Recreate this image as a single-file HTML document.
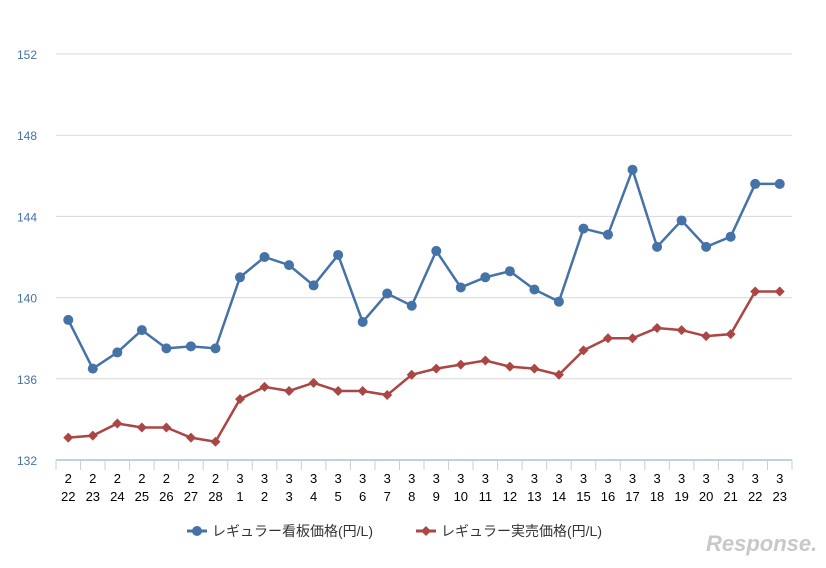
<!DOCTYPE html>
<html><head><meta charset="utf-8"><style>
body{margin:0;background:#fff;font-family:"Liberation Sans","Noto Sans CJK JP",sans-serif}
svg text{font-family:"Liberation Sans","Noto Sans CJK JP",sans-serif}
</style></head><body>
<svg id="c" width="826" height="563" xmlns="http://www.w3.org/2000/svg">
<g id="grid"></g><g id="axis"></g><g id="series"></g>
<g>
<g>
<line x1="187" y1="531" x2="207" y2="531" stroke="#4572a7" stroke-width="3"/><circle cx="197" cy="531" r="5" fill="#4572a7"/>
<text x="212" y="536" font-size="14" fill="#333">レギュラー看板価格(円/L)</text></g>
<g>
<line x1="416" y1="531" x2="436" y2="531" stroke="#aa4643" stroke-width="3"/><path d="M426 526L431 531L426 536L421 531Z" fill="#aa4643"/>
<text x="441" y="536" font-size="14" fill="#333">レギュラー実売価格(円/L)</text></g>
</g>
<text x="706" y="551" font-size="22" font-style="italic" fill="#c8c8c8" font-weight="bold">Response.</text>
</svg>
<script>
const months=[2,2,2,2,2,2,2,3,3,3,3,3,3,3,3,3,3,3,3,3,3,3,3,3,3,3,3,3,3,3];
const days=[22,23,24,25,26,27,28,1,2,3,4,5,6,7,8,9,10,11,12,13,14,15,16,17,18,19,20,21,22,23];
const signboard=[138.9,136.5,137.3,138.4,137.5,137.6,137.5,141.0,142.0,141.6,140.6,142.1,138.8,140.2,139.6,142.3,140.5,141.0,141.3,140.4,139.8,143.4,143.1,146.3,142.5,143.8,142.5,143.0,145.6,145.6];
const actual=[133.1,133.2,133.8,133.6,133.6,133.1,132.9,135.0,135.6,135.4,135.8,135.4,135.4,135.2,136.2,136.5,136.7,136.9,136.6,136.5,136.2,137.4,138.0,138.0,138.5,138.4,138.1,138.2,140.3,140.3];
const yTicks=[132,136,140,144,148,152];
const NS="http://www.w3.org/2000/svg";
const x0=56,x1=792,yB=460,yT=54,ymin=132,ymax=152;
const bw=(x1-x0)/days.length;
const X=i=>x0+bw*(i+0.5);
const Y=v=>yB-(v-ymin)/(ymax-ymin)*(yB-yT);
function mk(t,a,p){const e=document.createElementNS(NS,t);for(const k in a)e.setAttribute(k,a[k]);p.appendChild(e);return e;}
const grid=document.getElementById('grid'),axis=document.getElementById('axis'),ser=document.getElementById('series');
yTicks.forEach(v=>{
 if(v>ymin){const l=mk('line',{x1:x0,x2:x1,y1:Y(v),y2:Y(v),stroke:'#d8d8d8','stroke-width':1},grid);
 
 }
 const t=mk('text',{x:37,y:Y(v)+5,'text-anchor':'end','font-size':12,fill:'#4572a7'},axis);t.textContent=v;
 
 
});
const ax=mk('line',{x1:x0,x2:x1,y1:yB,y2:yB,stroke:'#c0d0e0','stroke-width':2},axis);


for(let i=0;i<=days.length;i++){mk('line',{x1:x0+bw*i,x2:x0+bw*i,y1:yB,y2:yB+10,stroke:'#c0d0e0','stroke-width':1},axis);}
days.forEach((d,i)=>{
 const t=mk('text',{x:X(i),y:483,'text-anchor':'middle','font-size':13,fill:'#000'},axis);t.textContent=months[i];
 
 
 const t2=mk('text',{x:X(i),y:501,'text-anchor':'middle','font-size':13,fill:'#000'},axis);t2.textContent=d;
 
 
});
function draw(arr,color,shape,name){
 const p=mk('polyline',{points:arr.map((v,i)=>X(i)+','+Y(v)).join(' '),fill:'none',stroke:color,'stroke-width':2.5},ser);
 
 
 arr.forEach((v,i)=>{let m;
  if(shape==='c')m=mk('circle',{cx:X(i),cy:Y(v),r:5,fill:color},ser);
  else{const x=X(i),y=Y(v);m=mk('path',{d:`M${x} ${y-5}L${x+5} ${y}L${x} ${y+5}L${x-5} ${y}Z`,fill:color},ser);}
  
  
 });
}
draw(actual,'#aa4643','d','actual-price');
draw(signboard,'#4572a7','c','signboard-price');
</script>
</body></html>
